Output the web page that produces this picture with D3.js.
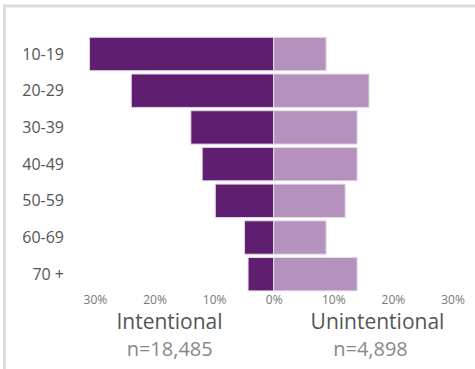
<!DOCTYPE html>
<html>
<head>
<meta charset="utf-8">
<script src="https://cdn.jsdelivr.net/npm/d3@7"></script>
<style>
  html, body { margin: 0; padding: 0; background: #fff; }
  svg { display: block; }
  text { font-family: "Open Sans", "Noto Sans", sans-serif; }
</style>
</head>
<body>
<svg id="chart" width="475" height="369"></svg>
<script>
// Age groups, top to bottom
const ageGroups = ["10-19", "20-29", "30-39", "40-49", "50-59", "60-69", "70 +"];
// Share of each group (%)
const intentional = [30.9, 23.9, 13.9, 12.0, 9.8, 4.9, 4.3];
const unintentional = [8.8, 16.0, 14.0, 14.0, 12.0, 8.8, 14.0];
const tickValues = [-30, -20, -10, 0, 10, 20, 30];
const groupTitles = ["Intentional", "Unintentional"];
const groupCounts = ["n=18,485", "n=4,898"];

const svg = d3.select("#chart");
const W = 475, H = 369;

// Panel frame: top and left rules
svg.append("line").attr("x1", 3).attr("x2", W).attr("y1", 6).attr("y2", 6)
  .attr("stroke", "#dcdcdc").attr("stroke-width", 3);
svg.append("line").attr("x1", 4.5).attr("x2", 4.5).attr("y1", 4.5).attr("y2", H)
  .attr("stroke", "#dcdcdc").attr("stroke-width", 3);

const x = d3.scaleLinear().domain([-30, 30]).range([94.9, 452.5]);
const y = d3.scaleBand().domain(ageGroups).range([34, 294.2])
  .paddingInner(0.09).paddingOuter(0.09);

const rows = ageGroups.map((g, i) => ({ g, left: intentional[i], right: unintentional[i] }));

// Intentional bars extend left of zero
svg.append("g").selectAll("rect").data(rows).join("rect")
  .attr("x", d => x(-d.left))
  .attr("y", d => y(d.g))
  .attr("width", d => x(0) - x(-d.left))
  .attr("height", y.bandwidth())
  .attr("fill", "#5f1e6f")
  .attr("stroke", "#e2d6e6").attr("stroke-width", 1);

// Unintentional bars extend right of zero
svg.append("g").selectAll("rect").data(rows).join("rect")
  .attr("x", x(0))
  .attr("y", d => y(d.g))
  .attr("width", d => x(d.right) - x(0))
  .attr("height", y.bandwidth())
  .attr("fill", "#b592bd")
  .attr("stroke", "#e8dcec").attr("stroke-width", 1);

// Category labels
svg.append("g").selectAll("text").data(ageGroups).join("text")
  .attr("x", 64)
  .attr("y", d => y(d) + y.bandwidth() / 2)
  .attr("dy", "0.35em")
  .attr("text-anchor", "end")
  .attr("font-size", 16)
  .attr("fill", "#555")
  .text(d => d);

// Percentage axis
const axis = d3.axisBottom(x).tickValues(tickValues)
  .tickFormat(d => Math.abs(d) + "%").tickSize(0).tickPadding(0);
const ax = svg.append("g").attr("transform", "translate(0,295.5)").call(axis);
ax.select(".domain").remove();
ax.selectAll("text")
  .attr("font-family", "'Open Sans', 'Noto Sans', sans-serif")
  .attr("font-size", 12).attr("fill", "#777").attr("dy", "0.71em");

// Group titles and counts
const titleX = [169.5, 377.5];
const countX = [169.7, 370.5];
svg.append("g").selectAll("text").data(groupTitles).join("text")
  .attr("x", (d, i) => titleX[i]).attr("y", 328.5)
  .attr("text-anchor", "middle").attr("font-size", 21).attr("fill", "#555")
  .text(d => d);
svg.append("g").selectAll("text").data(groupCounts).join("text")
  .attr("x", (d, i) => countX[i]).attr("y", 356)
  .attr("text-anchor", "middle").attr("font-size", 20).attr("fill", "#888")
  .text(d => d);
</script>
</body>
</html>
